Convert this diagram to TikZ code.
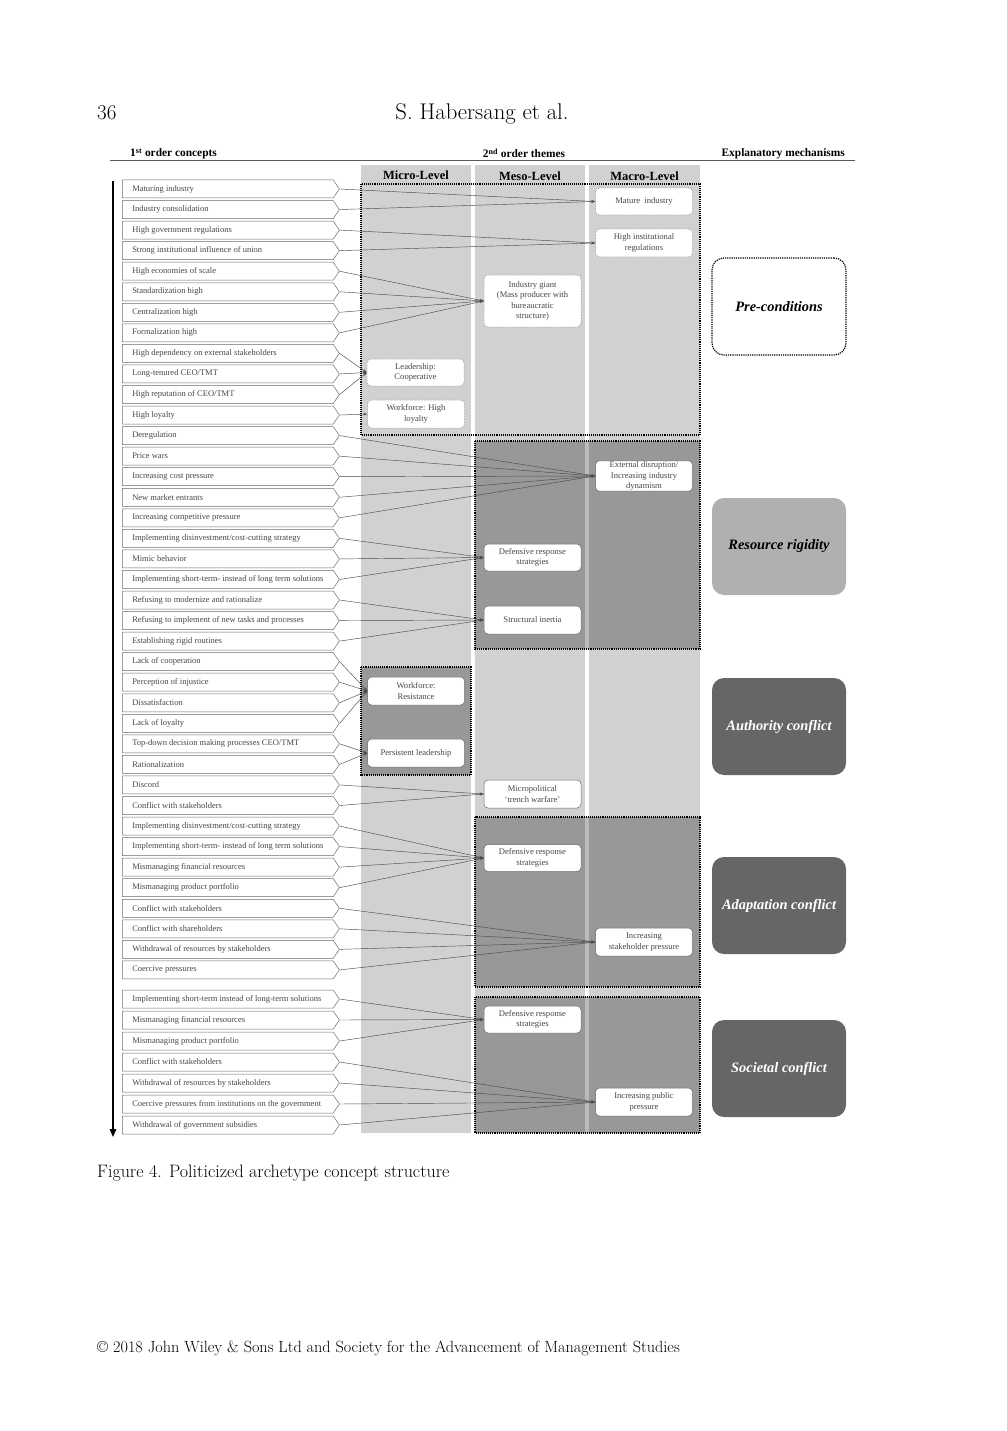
\documentclass[tikz,border=0pt]{standalone}
\usepackage{fontspec}
\newfontfamily\tnr{Liberation Serif}
\usetikzlibrary{shapes.symbols,arrows.meta}
\definecolor{colgray}{gray}{0.82}
\definecolor{rrgray}{gray}{0.69}
\definecolor{mechdark}{gray}{0.4}
\definecolor{boxline}{gray}{0.42}
\definecolor{txtgray}{gray}{0.28}
\newcommand\cpt[4]{\node[cbox] (#1) at (122,#2) {\makebox[191pt][l]{#3}};\draw[conn] (#1.east) -- (#4.west);}
\begin{document}
\begin{tikzpicture}[x=1pt,y=-1pt,font=\tnr,
  cbox/.style={signal, signal to=east, signal pointer angle=112, draw=boxline, line width=0.5pt, fill=white, anchor=west, minimum height=18pt, inner xsep=10pt, inner ysep=0pt, font=\tnr\fontsize{8.5}{10}\selectfont, text=txtgray},
  mbox/.style={draw=boxline, fill=white, rounded corners=4pt, line width=0.5pt, align=center, font=\tnr\fontsize{8.6}{10.3}\selectfont, text=txtgray, minimum width=97pt, minimum height=27pt, inner sep=1pt},
  mboxd/.style={mbox, densely dotted},
  conn/.style={draw=black!70, line width=0.45pt, -{Stealth[length=4pt,width=2.6pt]}},
  region/.style={fill=black, fill opacity=0.27, draw=black, draw opacity=1, densely dotted, line width=1.1pt},
  lvl/.style={font=\tnr\bfseries\fontsize{12.5}{14}\selectfont},
  hdr/.style={font=\tnr\bfseries\fontsize{11.4}{13}\selectfont},
  mech/.style={rounded corners=12pt, minimum width=134pt, minimum height=97pt, font=\tnr\bfseries\itshape\fontsize{14.4}{16}\selectfont}]
\useasboundingbox (0,0) rectangle (1006,1431);
% page texts
\node[font=\fontsize{21}{24}\selectfont, anchor=base west, inner sep=0pt] (pg) at (97,120) {36};
\node[font=\fontsize{22.7}{26}\selectfont, anchor=base, inner sep=0pt] (run) at (482,120) {S. Habersang et al.};
\node[font=\fontsize{18}{22}\selectfont, anchor=base west, inner sep=0pt] (cap) at (97,1177) {Figure 4. Politicized archetype concept structure};
\node[font=\fontsize{16.2}{19}\selectfont, anchor=base west, inner sep=0pt] (copy) at (97,1352) {© 2018 John Wiley \& Sons Ltd and Society for the Advancement of Management Studies};
% header
\node[hdr, anchor=base west, inner sep=0pt] (h1) at (130,157) {1\textsuperscript{st} order concepts};
\node[hdr, anchor=base, inner sep=0pt] (h2) at (524,158) {2\textsuperscript{nd} order themes};
\node[hdr, anchor=base east, inner sep=0pt] (h3) at (845,157) {Explanatory mechanisms};
\draw[line width=1.3pt, black!65] (110,160.5) -- (855,160.5);
% columns
\fill[colgray] (361,165) rectangle (471,1133);
\fill[colgray] (475,165) rectangle (585,1133);
\fill[colgray] (589,165) rectangle (700,1133);
\node[lvl] (lmicro) at (416,175) {Micro-Level};
\node[lvl] (lmeso) at (530,176) {Meso-Level};
\node[lvl] (lmacro) at (644.5,176) {Macro-Level};
% regions
\draw[black, densely dotted, line width=1.1pt] (361,184) rectangle (700,435);
\path[region] (475,441) rectangle (700,649);
\path[region] (361,667) rectangle (471,775);
\path[region] (475,817) rectangle (700,987);
\path[region] (475,997) rectangle (700,1133);
% arrow
\draw[line width=1.2pt, -{Triangle[length=8pt,width=6.5pt]}] (113,181) -- (113,1137);
% mechanisms
\node[mech, draw=black, densely dotted, line width=1.2pt, fill=white] (pre) at (779,306.5) {Pre-conditions};
\node[mech, fill=rrgray] (rr) at (779,546.5) {Resource rigidity};
\node[mech, fill=mechdark, text=white] (ac) at (779,726.5) {Authority conflict};
\node[mech, fill=mechdark, text=white] (adc) at (779,905.5) {Adaptation conflict};
\node[mech, fill=mechdark, text=white] (sc) at (779,1068.5) {Societal conflict};
% 2nd order themes
\node[mboxd] (mature) at (644,201.5) {Mature\ \ industry};
\node[mboxd, minimum height=28pt] (hireg) at (644,243) {High institutional\\regulations};
\node[mboxd, minimum height=52pt] (giant) at (532.5,301) {Industry giant\\(Mass producer with\\bureaucratic\\structure)};
\node[mboxd] (leadc) at (415.5,372.5) {Leadership:\\Cooperative};
\node[mboxd, minimum height=28pt] (wfhl) at (416,414) {Workforce: High\\loyalty};
\node[mbox, minimum height=30pt] (extd) at (644,476) {External disruption/\\Increasing industry\\dynamism};
\node[mbox] (def1) at (532.5,557.5) {Defensive response\\strategies};
\node[mbox, minimum height=28pt] (inertia) at (532.5,620) {Structural inertia};
\node[mbox, minimum height=28pt] (wfres) at (416,691) {Workforce:\\Resistance};
\node[mbox, minimum height=28pt] (persl) at (416,753) {Persistent leadership};
\node[mbox, minimum height=28pt] (micro) at (532.5,794) {Micropolitical\\‘trench warfare’};
\node[mbox] (def2) at (532.5,858) {Defensive response\\strategies};
\node[mbox, minimum height=28pt] (stakep) at (644,942) {Increasing\\stakeholder pressure};
\node[mbox] (def3) at (532.5,1019.5) {Defensive response\\strategies};
\node[mbox, minimum height=28pt] (publp) at (644,1102) {Increasing public\\pressure};
% 1st order concepts
\cpt{c1}{189}{Maturing industry}{mature}
\cpt{c2}{209.55}{Industry consolidation}{mature}
\cpt{c3}{230.1}{High government regulations}{hireg}
\cpt{c4}{250.65}{Strong institutional influence of union}{hireg}
\cpt{c5}{271.2}{High economies of scale}{giant}
\cpt{c6}{291.75}{Standardization high}{giant}
\cpt{c7}{312.3}{Centralization high}{giant}
\cpt{c8}{332.85}{Formalization high}{giant}
\cpt{c9}{353.4}{High dependency on external stakeholders}{leadc}
\cpt{c10}{373.95}{Long-tenured CEO/TMT}{leadc}
\cpt{c11}{394.5}{High reputation of CEO/TMT}{leadc}
\cpt{c12}{415.05}{High loyalty}{wfhl}
\cpt{c13}{435.6}{Deregulation}{extd}
\cpt{c14}{456.15}{Price wars}{extd}
\cpt{c15}{476.7}{Increasing cost pressure}{extd}
\cpt{c16}{497.25}{New market entrants}{extd}
\cpt{c17}{517.8}{Increasing competitive pressure}{extd}
\cpt{c18}{538.35}{Implementing disinvestment/cost-cutting strategy}{def1}
\cpt{c19}{558.9}{Mimic behavior}{def1}
\cpt{c20}{579.45}{Implementing short-term- instead of long term solutions}{def1}
\cpt{c21}{600}{Refusing to modernize and rationalize}{inertia}
\cpt{c22}{620.55}{Refusing to implement of new tasks and processes}{inertia}
\cpt{c23}{641.1}{Establishing rigid routines}{inertia}
\cpt{c24}{661.65}{Lack of cooperation}{wfres}
\cpt{c25}{682.2}{Perception of injustice}{wfres}
\cpt{c26}{702.75}{Dissatisfaction}{wfres}
\cpt{c27}{723.3}{Lack of loyalty}{wfres}
\cpt{c28}{743.85}{Top-down decision making processes CEO/TMT}{persl}
\cpt{c29}{764.4}{Rationalization}{persl}
\cpt{c30}{784.95}{Discord}{micro}
\cpt{c31}{805.5}{Conflict with stakeholders}{micro}
\cpt{c32}{826.05}{Implementing disinvestment/cost-cutting strategy}{def2}
\cpt{c33}{846.6}{Implementing short-term- instead of long term solutions}{def2}
\cpt{c34}{867.15}{Mismanaging financial resources}{def2}
\cpt{c35}{887.7}{Mismanaging product portfolio}{def2}
\cpt{c36}{908.25}{Conflict with stakeholders}{stakep}
\cpt{c37}{928.8}{Conflict with shareholders}{stakep}
\cpt{c38}{949.35}{Withdrawal of resources by stakeholders}{stakep}
\cpt{c39}{969.9}{Coercive pressures}{stakep}
\cpt{c40}{999}{Implementing short-term instead of long-term solutions}{def3}
\cpt{c41}{1020}{Mismanaging financial resources}{def3}
\cpt{c42}{1041}{Mismanaging product portfolio}{def3}
\cpt{c43}{1062}{Conflict with stakeholders}{publp}
\cpt{c44}{1083}{Withdrawal of resources by stakeholders}{publp}
\cpt{c45}{1104}{Coercive pressures from institutions on the government}{publp}
\cpt{c46}{1125}{Withdrawal of government subsidies}{publp}
\end{tikzpicture}
\end{document}
